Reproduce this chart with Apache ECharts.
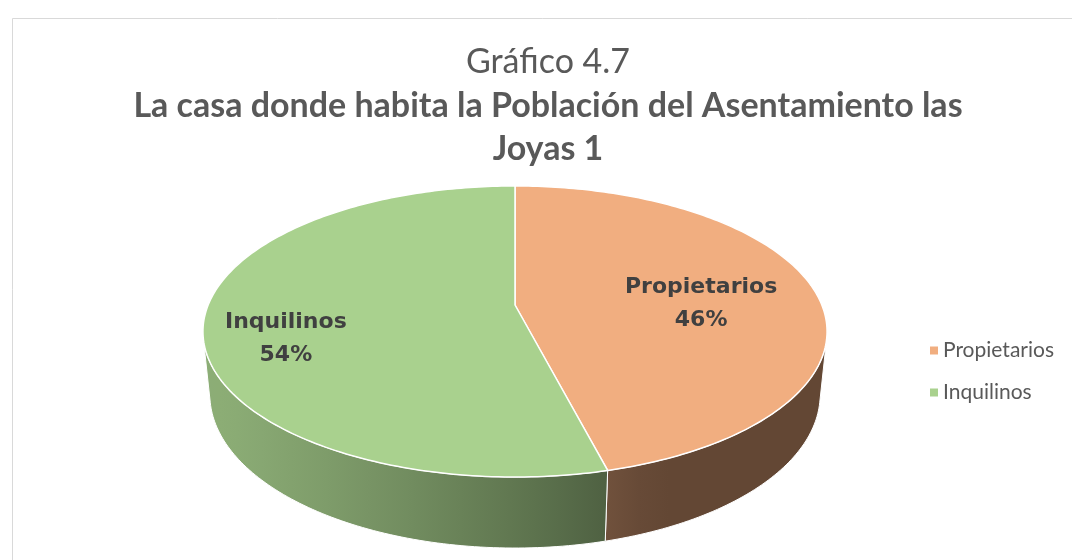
<!DOCTYPE html>
<html>
<head>
<meta charset="utf-8">
<script src="https://cdn.jsdelivr.net/npm/echarts@6/dist/echarts.min.js"></script>
<style>
  html, body { margin: 0; padding: 0; background: #fff; }
  #main { width: 1072px; height: 560px; }
</style>
</head>
<body>
<div id="main"></div>
<script>
// datos del gráfico
var categories = ['Propietarios', 'Inquilinos'];
var values = [46, 54];
var topColors = ['#F1AE80', '#A9D18E'];

// vista en perspectiva del pastel 3D
var view = { cx: 515, cy: 305, f: 1498, dist: 4.882, tilt: 27.3, depth: 0.2324 };
var labelRadius = [0.62, 0.74];
var labelShift = [[0, 10], [0, 21]];

var total = values.reduce(function (a, b) { return a + b; }, 0);
var tc = Math.cos(view.tilt * Math.PI / 180), ts = Math.sin(view.tilt * Math.PI / 180);

function project(theta, r, z) {
  var a = theta * Math.PI / 180;
  var x = r * Math.sin(a), y = -r * Math.cos(a);
  var d = view.dist - y * tc - z * ts;
  return [view.cx + view.f * x / d, view.cy + view.f * (y * ts - z * tc) / d];
}

function arc(a0, a1, z) {
  var pts = [], n = Math.max(2, Math.ceil(Math.abs(a1 - a0)));
  for (var k = 0; k <= n; k++) pts.push(project(a0 + (a1 - a0) * k / n, 1, z));
  return pts;
}

// luz lateral: más clara a la izquierda
function light(theta) {
  var c = Math.cos((theta - 248) * Math.PI / 180);
  return 0.41 + 0.42 * Math.max(0, c);
}

function shade(hex, k) {
  var n = parseInt(hex.slice(1), 16);
  var r = Math.round(((n >> 16) & 255) * k), g = Math.round(((n >> 8) & 255) * k), b = Math.round((n & 255) * k);
  return 'rgb(' + r + ',' + g + ',' + b + ')';
}

var visFrom = Math.acos(-1 / (view.dist * tc)) * 180 / Math.PI;
var visTo = 360 - visFrom;

function makeRender(i) {
  return function (params, api) {
    var before = 0;
    for (var j = 0; j < i; j++) before += values[j];
    var start = before / total * 360;
    var end = start + api.value(0) / total * 360;
    var color = topColors[i];
    var children = [];

    var top = [project(0, 0, 0)].concat(arc(start, end, 0));
    children.push({
      type: 'polygon', z2: 10,
      shape: { points: top },
      style: { fill: color, stroke: '#fff', lineWidth: 1.5, lineJoin: 'round' }
    });

    var w0 = Math.max(start, visFrom), w1 = Math.min(end, visTo);
    if (w1 > w0) {
      var pts = arc(w0, w1, 0).concat(arc(w1, w0, -view.depth));
      var x0 = project(w0, 1, 0)[0], x1 = project(w1, 1, 0)[0];
      var stops = [];
      for (var k = 0; k <= 12; k++) {
        var th = w0 + (w1 - w0) * k / 12;
        var px = project(th, 1, 0)[0];
        stops.push({ offset: Math.min(1, Math.max(0, (px - x0) / (x1 - x0))), color: shade(color, light(th)) });
      }
      children.push({
        type: 'polygon', z2: 1,
        shape: { points: pts },
        style: {
          fill: new echarts.graphic.LinearGradient(x0, 0, x1, 0, stops, true),
          stroke: '#fff', lineWidth: 1
        }
      });
    }

    var mid = (start + end) / 2;
    var lp = project(mid, labelRadius[i], 0);
    children.push({
      type: 'text', z2: 20,
      style: {
        text: categories[i] + '\n' + Math.round(api.value(0) / total * 100) + '%',
        x: lp[0] + labelShift[i][0], y: lp[1] + labelShift[i][1],
        align: 'center', verticalAlign: 'middle',
        fill: '#404040',
        font: 'bold 22px "DejaVu Sans"',
        lineHeight: 33
      }
    });
    return { type: 'group', children: children };
  };
}

var myChart = echarts.init(document.getElementById('main'));
var option = {
  animation: false,
  backgroundColor: '#fff',
  graphic: [{
    type: 'rect', silent: true,
    shape: { x: 12.5, y: 18.5, width: 1100, height: 600 },
    style: { fill: 'none', stroke: '#d9d9d9', lineWidth: 1 }
  }],
  title: [{
    text: 'Gráfico 4.7',
    left: 543, top: 40, textAlign: 'center',
    textStyle: { fontFamily: 'Lato', fontSize: 34, fontWeight: 'normal', color: '#595959' }
  }, {
    text: 'La casa donde habita la Población del Asentamiento las\nJoyas 1',
    left: 543, top: 80, textAlign: 'center',
    textStyle: { fontFamily: 'Lato', fontSize: 34, fontWeight: 'bold', color: '#595959', lineHeight: 43 }
  }],
  legend: {
    orient: 'vertical',
    left: 925, top: 335,
    itemWidth: 8, itemHeight: 8, itemGap: 21,
    icon: 'rect',
    data: categories,
    textStyle: { fontFamily: 'Lato', fontSize: 21, color: '#595959' }
  },
  series: categories.map(function (name, i) {
    return {
      type: 'custom',
      name: name,
      coordinateSystem: 'none',
      data: [values[i]],
      itemStyle: { color: topColors[i] },
      renderItem: makeRender(i)
    };
  })
};
myChart.setOption(option);
</script>
</body>
</html>
